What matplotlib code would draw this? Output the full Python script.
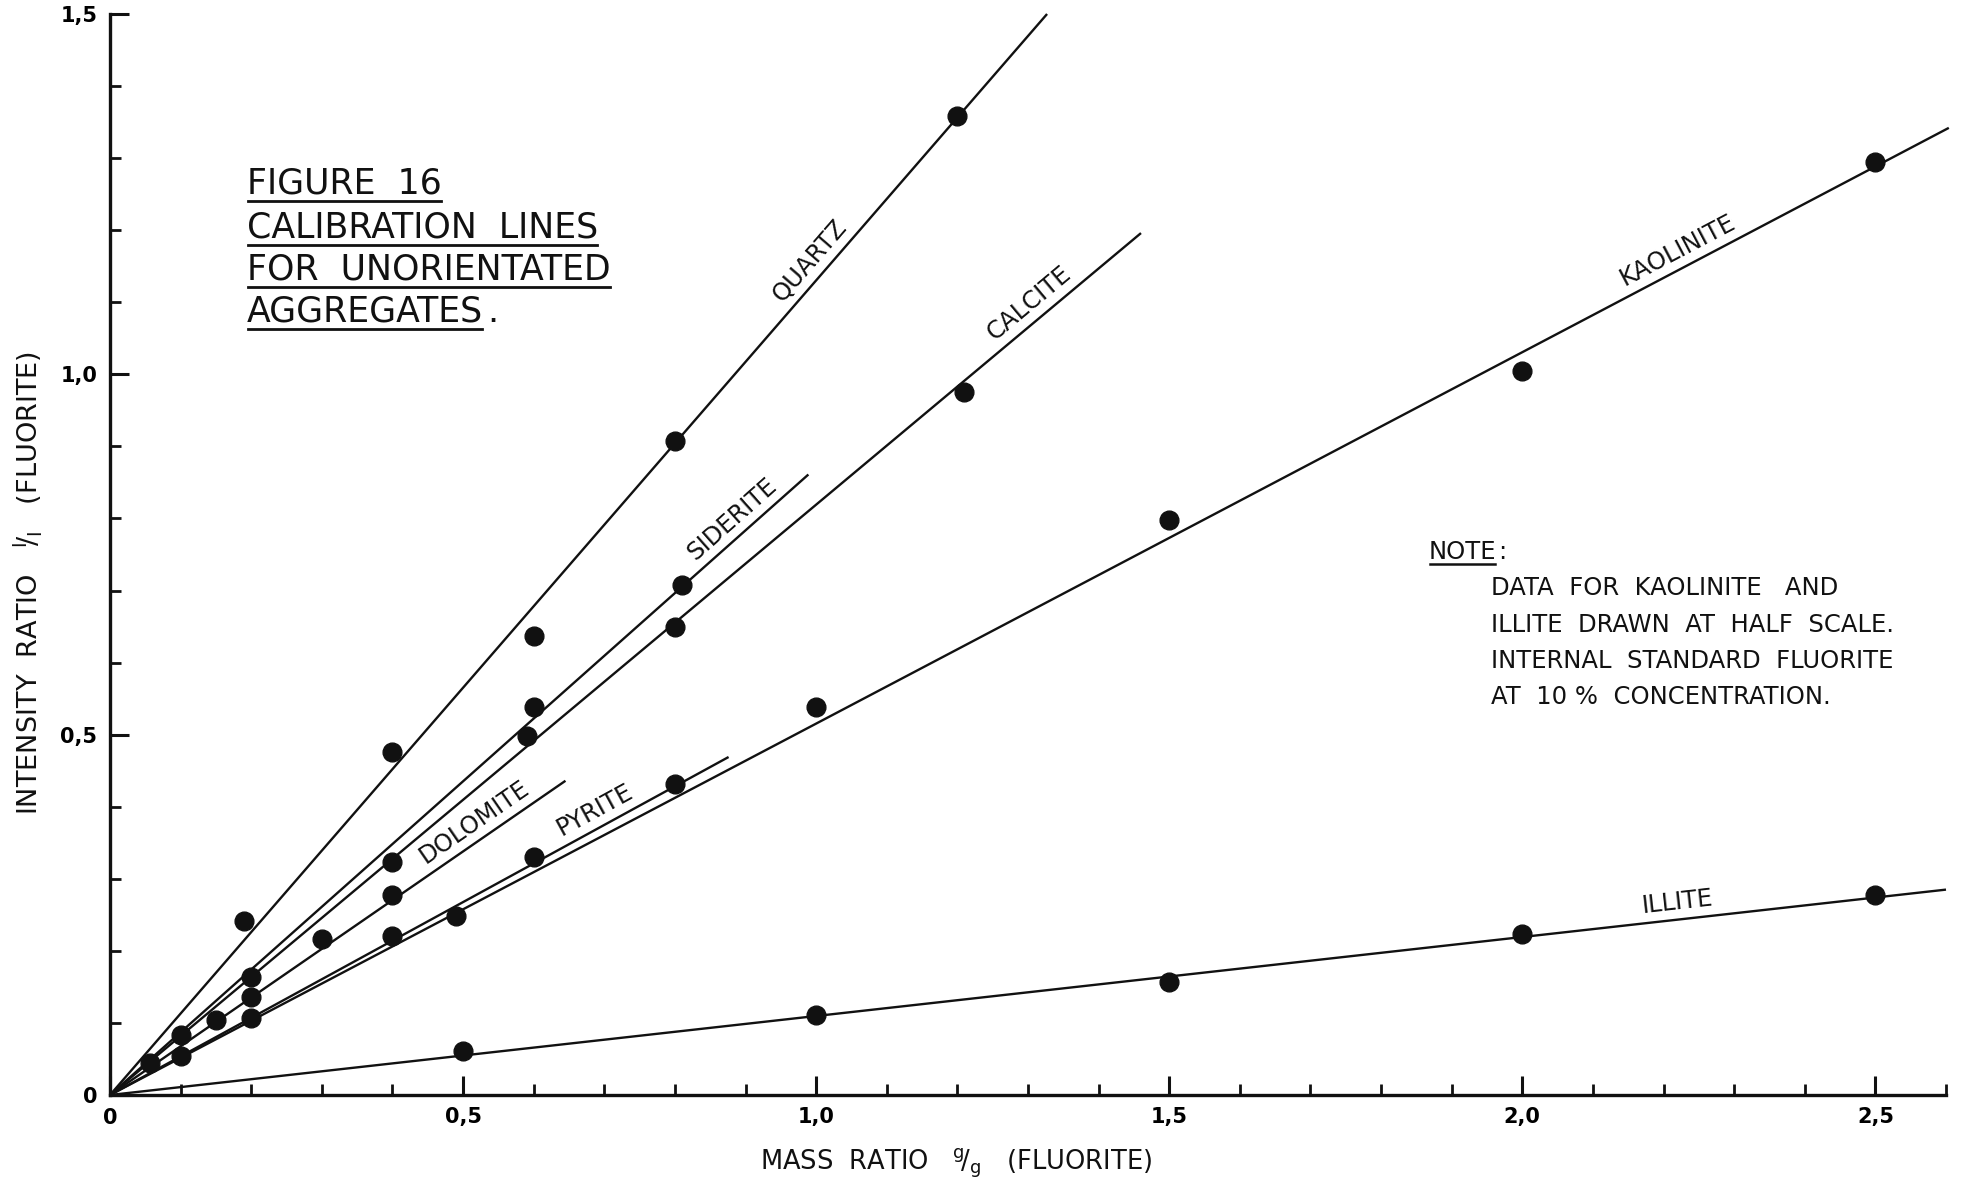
import numpy as np
import matplotlib
matplotlib.use("Agg")
import matplotlib.pyplot as plt
from matplotlib.lines import Line2D
from matplotlib.transforms import IdentityTransform
from matplotlib.ticker import MultipleLocator, FuncFormatter

# Measured points: mass ratio (g/g fluorite) vs intensity ratio I/I (fluorite)
quartz_x = [0.19, 0.40, 0.60, 0.80, 1.20]
quartz_y = [0.241, 0.476, 0.637, 0.908, 1.358]
siderite_x = [0.60, 0.81]
siderite_y = [0.538, 0.708]
calcite_x = [0.10, 0.20, 0.40, 0.59, 0.80, 1.21]
calcite_y = [0.083, 0.164, 0.323, 0.498, 0.649, 0.975]
dolomite_x = [0.057, 0.15, 0.20, 0.30, 0.40]
dolomite_y = [0.044, 0.104, 0.136, 0.216, 0.278]
pyrite_x = [0.10, 0.20, 0.40, 0.60, 0.80]
pyrite_y = [0.054, 0.107, 0.221, 0.330, 0.432]
kaolinite_x = [0.49, 1.00, 1.50, 2.00, 2.50]
kaolinite_y = [0.248, 0.538, 0.798, 1.005, 1.294]
illite_x = [0.50, 1.00, 1.50, 2.00, 2.50]
illite_y = [0.061, 0.111, 0.157, 0.224, 0.277]

# Calibration lines run from the origin to these end points
line_names = ["QUARTZ", "CALCITE", "SIDERITE", "DOLOMITE", "PYRITE", "KAOLINITE", "ILLITE"]
line_end_x = [1.327, 1.460, 0.989, 0.645, 0.876, 2.604, 2.600]
line_end_y = [1.500, 1.196, 0.861, 0.436, 0.469, 1.342, 0.285]
label_at_x = [1.010, 1.318, 0.897, 0.530, 0.698, 2.232, 2.222]

x_major = [0, 0.5, 1.0, 1.5, 2.0, 2.5]
y_major = [0, 0.5, 1.0, 1.5]

title_lines = ["FIGURE  16", "CALIBRATION  LINES", "FOR  UNORIENTATED", "AGGREGATES"]
note_head = "NOTE"
note_lines = ["DATA  FOR  KAOLINITE   AND",
              "ILLITE  DRAWN  AT  HALF  SCALE.",
              "INTERNAL  STANDARD  FLUORITE",
              "AT  10 %  CONCENTRATION."]

W, H = 1965, 1180
plt.rcParams["font.family"] = ["DejaVu Sans"]
fig = plt.figure(figsize=(W / 100, H / 100), dpi=100)
ax = fig.add_axes([110 / W, 1 - 1095 / H, (1946 - 110) / W, (1095 - 14) / H])

ax.set_xlim(0, 2.6)
ax.set_ylim(0, 1.5)

ink = "#111111"
for ex, ey in zip(line_end_x, line_end_y):
    ax.plot([0, ex], [0, ey], color=ink, lw=1.7, solid_capstyle="butt", clip_on=False)

for xs, ys in [(quartz_x, quartz_y), (siderite_x, siderite_y), (calcite_x, calcite_y),
               (dolomite_x, dolomite_y), (pyrite_x, pyrite_y),
               (kaolinite_x, kaolinite_y), (illite_x, illite_y)]:
    ax.plot(xs, ys, "o", color=ink, ms=13.5, mec=ink, clip_on=False, zorder=3)

# axes: left and bottom only, ticks pointing inward
for s in ["top", "right"]:
    ax.spines[s].set_visible(False)
for s in ["left", "bottom"]:
    ax.spines[s].set_linewidth(2.4)
    ax.spines[s].set_color(ink)

ax.xaxis.set_major_locator(plt.FixedLocator(x_major))
ax.yaxis.set_major_locator(plt.FixedLocator(y_major))
ax.xaxis.set_minor_locator(MultipleLocator(0.1))
ax.yaxis.set_minor_locator(MultipleLocator(0.1))
fmt = FuncFormatter(lambda v, p: "0" if abs(v) < 1e-9 else f"{v:.1f}".replace(".", ","))
ax.xaxis.set_major_formatter(fmt)
ax.yaxis.set_major_formatter(fmt)
ax.tick_params(which="major", direction="in", length=14, width=2.2, color=ink,
               labelsize=15, pad=9)
ax.tick_params(which="minor", direction="in", length=8, width=2.0, color=ink)
for lab in ax.get_xticklabels() + ax.get_yticklabels():
    lab.set_fontweight("bold")

# mineral labels set along their lines
fig.canvas.draw()
for name, ex, ey, lx in zip(line_names, line_end_x, line_end_y, label_at_x):
    ly = ey / ex * lx
    p0 = ax.transData.transform((0, 0))
    p1 = ax.transData.transform((ex, ey))
    ang = np.degrees(np.arctan2(p1[1] - p0[1], p1[0] - p0[0]))
    nx, ny = -np.sin(np.radians(ang)), np.cos(np.radians(ang))
    ax.annotate(name, (lx, ly), xytext=(nx * 4, ny * 4), textcoords="offset points",
                rotation=ang, rotation_mode="anchor", ha="center", va="bottom",
                fontsize=17.5, color=ink)

# title block, each line underlined
renderer = fig.canvas.get_renderer()

def underline(t, base_px, gap=7, lw=2.0):
    bb = t.get_window_extent(renderer)
    yy = H - base_px - gap
    fig.add_artist(Line2D([bb.x0 + 1, bb.x1 - 1], [yy, yy], transform=IdentityTransform(),
                          color=ink, lw=lw))
    return bb

title_base = [194, 238, 280, 322]
for txt, b in zip(title_lines, title_base):
    t = fig.text(247 / W, 1 - b / H, txt, fontsize=25, color=ink, va="baseline", ha="left")
    bb = underline(t, b)
    if txt == "AGGREGATES":
        fig.text((bb.x1 + 4) / W, 1 - b / H, ".", fontsize=25, color=ink, va="baseline")

t = fig.text(1429 / W, 1 - 559 / H, note_head, fontsize=17.5, color=ink, va="baseline")
bb = underline(t, 559, gap=5, lw=1.8)
fig.text((bb.x1 + 2) / W, 1 - 559 / H, ":", fontsize=17.5, color=ink, va="baseline")
for i, txt in enumerate(note_lines):
    fig.text(1491 / W, 1 - (595 + 36.5 * i) / H, txt, fontsize=17.5, color=ink, va="baseline")

fig.text(956 / W, 1 - 1169 / H, r"MASS  RATIO   $^{\mathrm{g}}\!/_{\mathrm{g}}$   (FLUORITE)",
         fontsize=18.5, color=ink, ha="center", va="baseline")
fig.text(28 / W, 1 - 583 / H, r"INTENSITY  RATIO   $^{\mathrm{I}}\!/_{\mathrm{I}}$   (FLUORITE)",
         fontsize=19.5, color=ink, ha="center", va="center", rotation=90)

fig.savefig("out.png", dpi=100, facecolor="white")
